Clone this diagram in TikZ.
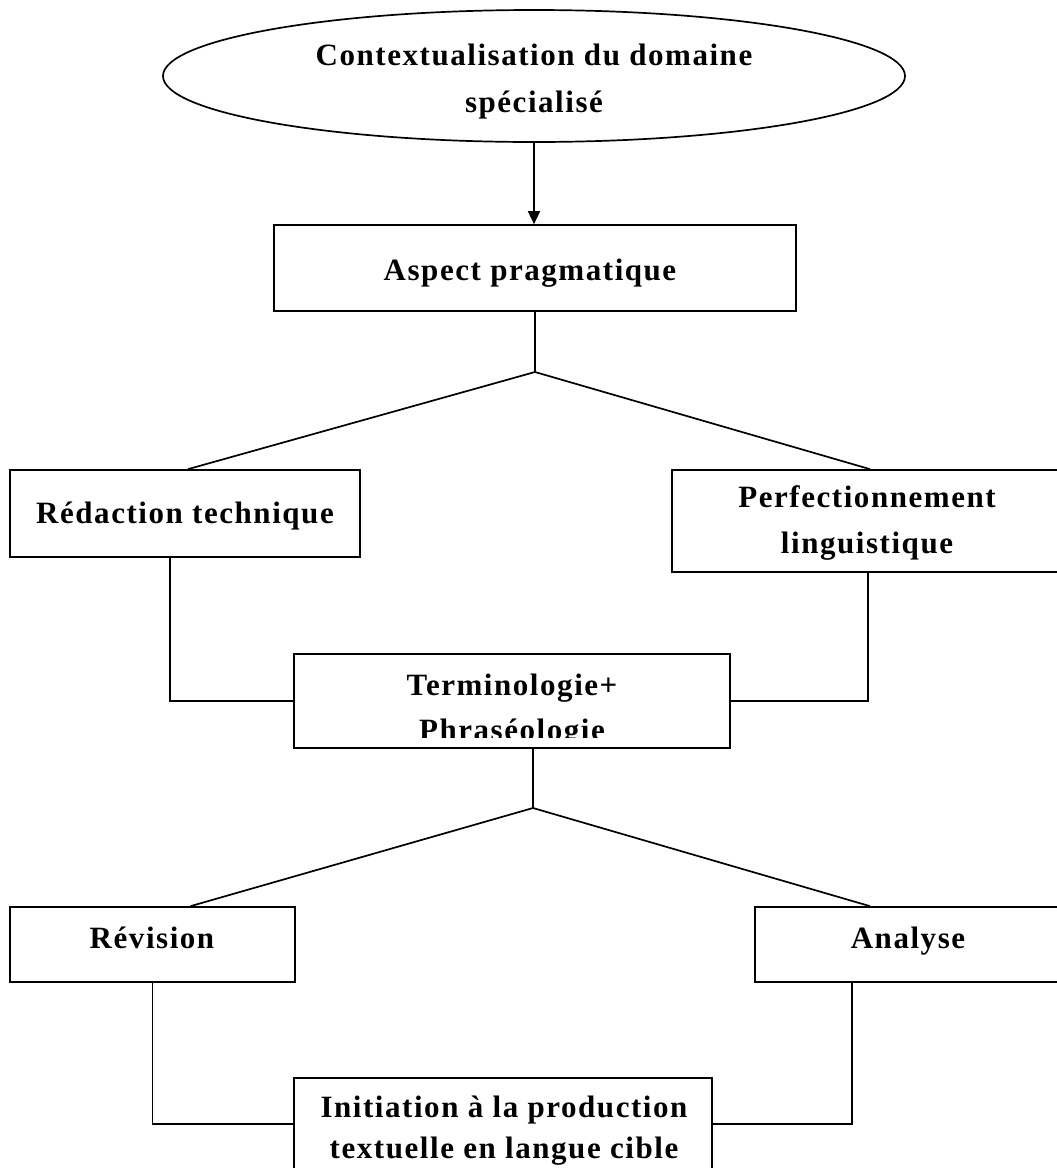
\documentclass[tikz,border=0pt]{standalone}
\usepackage{fontspec}
\setmainfont{Liberation Serif}[LetterSpace=5.0]
\usetikzlibrary{shapes.geometric,arrows.meta}
\begin{document}
\begin{tikzpicture}[x=1pt,y=-1pt,
  line width=1.7pt,
  box/.style={draw, rectangle, inner sep=0pt},
  lbl/.style={font=\bfseries\fontsize{31}{46}\selectfont, align=center, anchor=base, inner sep=0pt},
  arr/.style={-{Triangle[length=13pt,width=12pt]}}]
\fill[white] (0,0) rectangle (1057,1168);
\useasboundingbox (0,0) rectangle (1057,1168);

% top ellipse
\node[draw, ellipse, inner sep=0pt, minimum width=742pt, minimum height=132pt] (ell) at (534,76) {};
\node[lbl, font=\bfseries\fontsize{31}{47}\selectfont] (ellt) at (534,112) {Contextualisation du domaine\\spécialisé};

% boxes
\node[box, minimum width=522pt, minimum height=86pt] (asp) at (535,268) {};
\node[lbl] (aspt) at (530,280) {Aspect pragmatique};

\node[box, minimum width=350pt, minimum height=87pt] (red) at (185,513.5) {};
\node[lbl] (redt) at (185,523) {Rédaction technique};

\node[box, minimum width=392pt, minimum height=102pt] (perf) at (868,521) {};
\node[lbl] (perft) at (867,553) {Perfectionnement\\linguistique};

\begin{scope}
  \clip (294,654) rectangle (730,737);
  \node[lbl, font=\bfseries\fontsize{31}{45}\selectfont] (termt) at (512,740) {Terminologie+\\Phraséologie};
\end{scope}
\node[box, minimum width=436pt, minimum height=94pt] (term) at (512,701) {};

\node[box, minimum width=285pt, minimum height=75pt] (rev) at (152.5,944.5) {};
\node[lbl] (revt) at (152,948) {Révision};

\node[box, minimum width=309pt, minimum height=75pt] (ana) at (909.5,944.5) {};
\node[lbl] (anat) at (908,948) {Analyse};

\node[box, minimum width=418pt, minimum height=92pt] (init) at (503,1124) {};
\node[lbl, font=\bfseries\fontsize{31}{41}\selectfont] (initt) at (504,1158) {Initiation à la production\\textuelle en langue cible};

% connectors
\draw[arr] (ell.south) -- (ell.south |- asp.north);
\coordinate (j1) at (535,372);
\draw (asp.south) -- (j1);
\draw (j1) -- ([xshift=3pt]red.north);
\draw (j1) -- ([xshift=2pt]perf.north);
\draw ([xshift=-15pt]red.south) |- (term.west);
\draw (perf.south) |- (term.east);
\coordinate (j2) at (533,808);
\draw ([xshift=21pt]term.south) -- (j2);
\draw (j2) -- ([xshift=38pt]rev.north);
\draw (j2) -- ([xshift=-39.5pt]ana.north);
\draw (rev.south) |- (init.west);
\draw ([xshift=-57.5pt]ana.south) |- (init.east);
\end{tikzpicture}
\end{document}
